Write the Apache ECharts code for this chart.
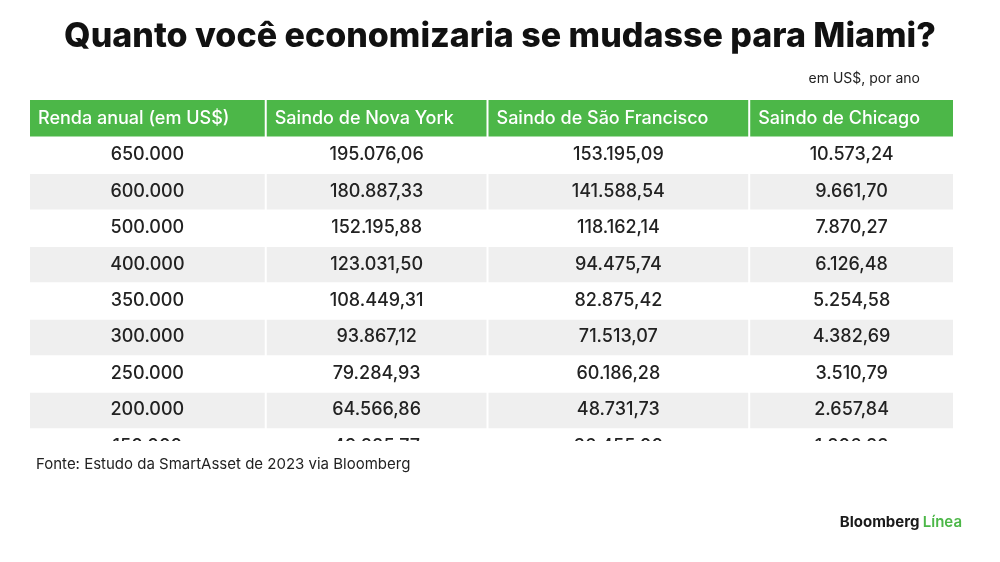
<!DOCTYPE html>
<html>
<head>
<meta charset="utf-8">
<script src="https://cdn.jsdelivr.net/npm/echarts@6/dist/echarts.min.js"></script>
<style>
  html, body { margin: 0; padding: 0; background: #fff; }
  #table-chart { width: 1000px; height: 562px; }
</style>
</head>
<body>
<div id="table-chart"></div>
<script>
// dados da tabela
const headers = ['Renda anual (em US$)', 'Saindo de Nova York', 'Saindo de São Francisco', 'Saindo de Chicago']
const incomes = [650000, 600000, 500000, 400000, 350000, 300000, 250000, 200000, 150000]
const nyValues = [195076.06, 180887.33, 152195.88, 123031.50, 108449.31, 93867.12, 79284.93, 64566.86, 49885.77]
const sfValues = [153195.09, 141588.54, 118162.14, 94475.74, 82875.42, 71513.07, 60186.28, 48731.73, 36455.00]
const chiValues = [10573.24, 9661.70, 7870.27, 6126.48, 5254.58, 4382.69, 3510.79, 2657.84, 1806.83]

// larguras das colunas (layout)
const colWidths = [236, 222, 262, 204]
const colStarts = colWidths.map((w, i) => colWidths.slice(0, i).reduce((a, b) => a + b, 0))
const totalWidth = colWidths.reduce((a, b) => a + b, 0)

const font = 'Inter, Roboto, sans-serif'

// formato pt-BR
function fmt(v, dec) {
  let parts = v.toFixed(dec).split('.')
  let int = parts[0].replace(/\B(?=(\d{3})+(?!\d))/g, '.')
  return dec ? int + ',' + parts[1] : int
}

let cells = []
headers.forEach((h, c) => cells.push([c, 0, h, 1]))
incomes.forEach((v, i) => {
  let r = i + 1
  cells.push([0, r, fmt(v, 0), 0])
  cells.push([1, r, fmt(nyValues[i], 2), 0])
  cells.push([2, r, fmt(sfValues[i], 2), 0])
  cells.push([3, r, fmt(chiValues[i], 2), 0])
})

const myChart = echarts.init(document.getElementById('table-chart'))

const option = {
  backgroundColor: '#fff',
  animation: false,
  title: [
    {
      text: 'Quanto você economizaria se mudasse para Miami?',
      left: 'center',
      top: 15,
      textStyle: { fontFamily: font, fontSize: 34, fontWeight: 800, color: '#111' }
    },
    {
      text: 'em US$, por ano',
      right: 75,
      top: 67,
      textStyle: { fontFamily: font, fontSize: 14, fontWeight: 400, color: '#222' }
    },
    {
      text: 'Fonte: Estudo da SmartAsset de 2023 via Bloomberg',
      left: 31,
      top: 452,
      textStyle: { fontFamily: font, fontSize: 15, fontWeight: 400, color: '#222' }
    }
  ],
  graphic: [
    {
      type: 'text',
      right: 38,
      top: 515,
      style: {
        text: '{b|Bloomberg} {g|Línea}',
        rich: {
          b: { fontFamily: font, fontSize: 15, fontWeight: 700, fill: '#1a1a1a' },
          g: { fontFamily: font, fontSize: 15, fontWeight: 600, fill: '#4cb748' }
        }
      }
    }
  ],
  grid: { left: 30, right: 1000 - 30 - 923, top: 100, bottom: 121 },
  xAxis: { type: 'value', min: 0, max: totalWidth, show: false },
  yAxis: { type: 'value', min: 0, max: 9.35, inverse: true, show: false },
  series: [{
    type: 'custom',
    clip: true,
    data: cells,
    renderItem: (params, api) => {
      let c = api.value(0)
      let r = api.value(1)
      let header = api.value(3)
      let text = cells[params.dataIndex][2]
      let p0 = api.coord([colStarts[c], r])
      let p1 = api.coord([colStarts[c] + colWidths[c], r + 1])
      let x = p0[0] + (c > 0 ? 1 : 0)
      let w = p1[0] - p0[0] - (c > 0 ? 1 : 0) - (c < 3 ? 1 : 0)
      let fill = header ? '#4cb748' : (r % 2 === 0 ? '#efefef' : '#ffffff')
      return {
        type: 'group',
        children: [
          {
            type: 'rect',
            shape: { x: x, y: p0[1] + (header ? 0 : 1), width: w, height: p1[1] - p0[1] - (header ? 0 : 1) },
            style: { fill: fill }
          },
          {
            type: 'text',
            x: header ? x + 8 : x + w / 2,
            y: (p0[1] + p1[1]) / 2,
            style: {
              text: text,
              fontFamily: font,
              fontSize: 18,
              fontWeight: 500,
              fill: header ? '#fff' : '#222',
              align: header ? 'left' : 'center',
              verticalAlign: 'middle'
            }
          }
        ]
      }
    }
  }]
}

myChart.setOption(option)
</script>
</body>
</html>
